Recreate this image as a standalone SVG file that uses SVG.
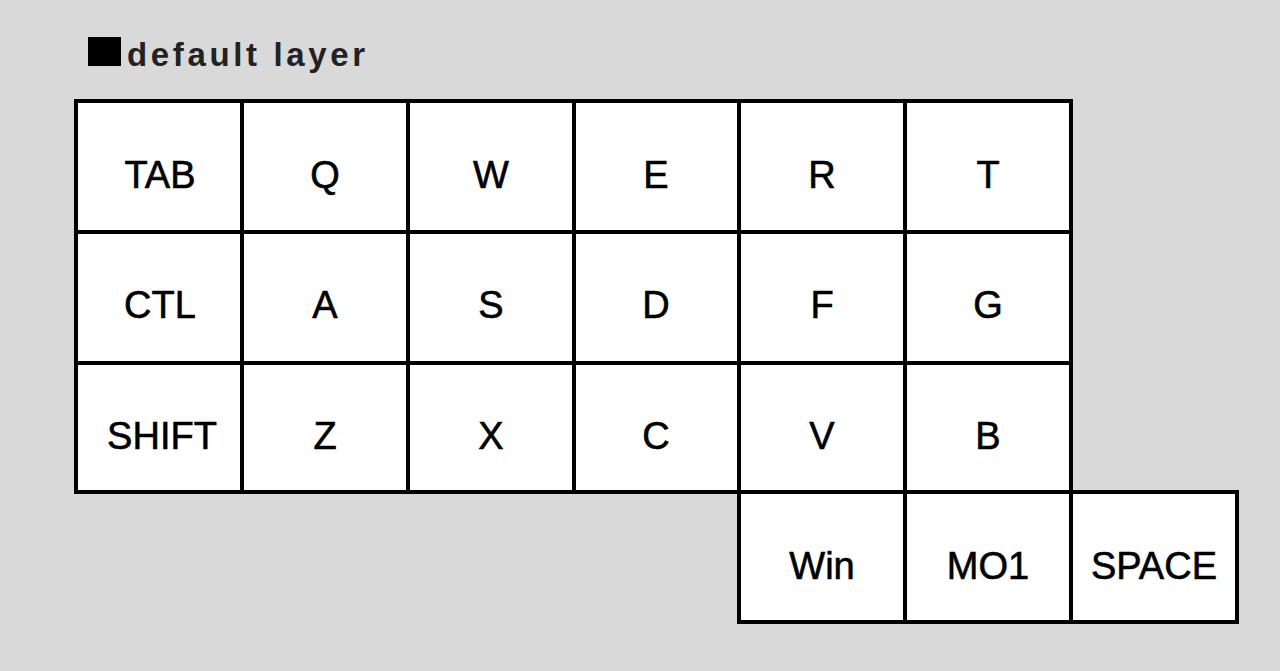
<svg xmlns="http://www.w3.org/2000/svg" width="1280" height="671" viewBox="0 0 1280 671">
<style>
.key rect{fill:#fff;stroke:#000;stroke-width:4}
.key text{font-family:"Liberation Sans",Arial,sans-serif;font-size:38px;text-anchor:middle;fill:#000;stroke:#000;stroke-width:0.6}
.title{font-family:"Liberation Sans",Arial,sans-serif;font-size:33px;font-weight:bold;fill:#222}
</style>
<rect width="1280" height="671" fill="#d9d9d9"/>
<g id="title">
<rect x="88" y="37" width="33" height="29" fill="#000"/>
<text class="title" x="127" y="66" textLength="238" lengthAdjust="spacing">default layer</text>
</g>
<g id="k-tab" class="key"><rect x="76" y="101" width="166" height="131"/><text x="160" y="188">TAB</text></g>
<g id="k-q" class="key"><rect x="242" y="101" width="166" height="131"/><text x="325" y="188">Q</text></g>
<g id="k-w" class="key"><rect x="408" y="101" width="166" height="131"/><text x="491" y="188">W</text></g>
<g id="k-e" class="key"><rect x="574" y="101" width="165" height="131"/><text x="656" y="188">E</text></g>
<g id="k-r" class="key"><rect x="739" y="101" width="166" height="131"/><text x="822" y="188">R</text></g>
<g id="k-t" class="key"><rect x="905" y="101" width="166" height="131"/><text x="988" y="188">T</text></g>
<g id="k-ctl" class="key"><rect x="76" y="232" width="166" height="131"/><text x="160" y="318">CTL</text></g>
<g id="k-a" class="key"><rect x="242" y="232" width="166" height="131"/><text x="325" y="318">A</text></g>
<g id="k-s" class="key"><rect x="408" y="232" width="166" height="131"/><text x="491" y="318">S</text></g>
<g id="k-d" class="key"><rect x="574" y="232" width="165" height="131"/><text x="656" y="318">D</text></g>
<g id="k-f" class="key"><rect x="739" y="232" width="166" height="131"/><text x="822" y="318">F</text></g>
<g id="k-g" class="key"><rect x="905" y="232" width="166" height="131"/><text x="988" y="318">G</text></g>
<g id="k-shift" class="key"><rect x="76" y="363" width="166" height="129"/><text x="162" y="449">SHIFT</text></g>
<g id="k-z" class="key"><rect x="242" y="363" width="166" height="129"/><text x="325" y="449">Z</text></g>
<g id="k-x" class="key"><rect x="408" y="363" width="166" height="129"/><text x="491" y="449">X</text></g>
<g id="k-c" class="key"><rect x="574" y="363" width="165" height="129"/><text x="656" y="449">C</text></g>
<g id="k-v" class="key"><rect x="739" y="363" width="166" height="129"/><text x="822" y="449">V</text></g>
<g id="k-b" class="key"><rect x="905" y="363" width="166" height="129"/><text x="988" y="449">B</text></g>
<g id="k-win" class="key"><rect x="739" y="492" width="166" height="130"/><text x="822" y="579">Win</text></g>
<g id="k-mo1" class="key"><rect x="905" y="492" width="166" height="130"/><text x="988" y="579">MO1</text></g>
<g id="k-space" class="key"><rect x="1071" y="492" width="166" height="130"/><text x="1154" y="579">SPACE</text></g>
</svg>
